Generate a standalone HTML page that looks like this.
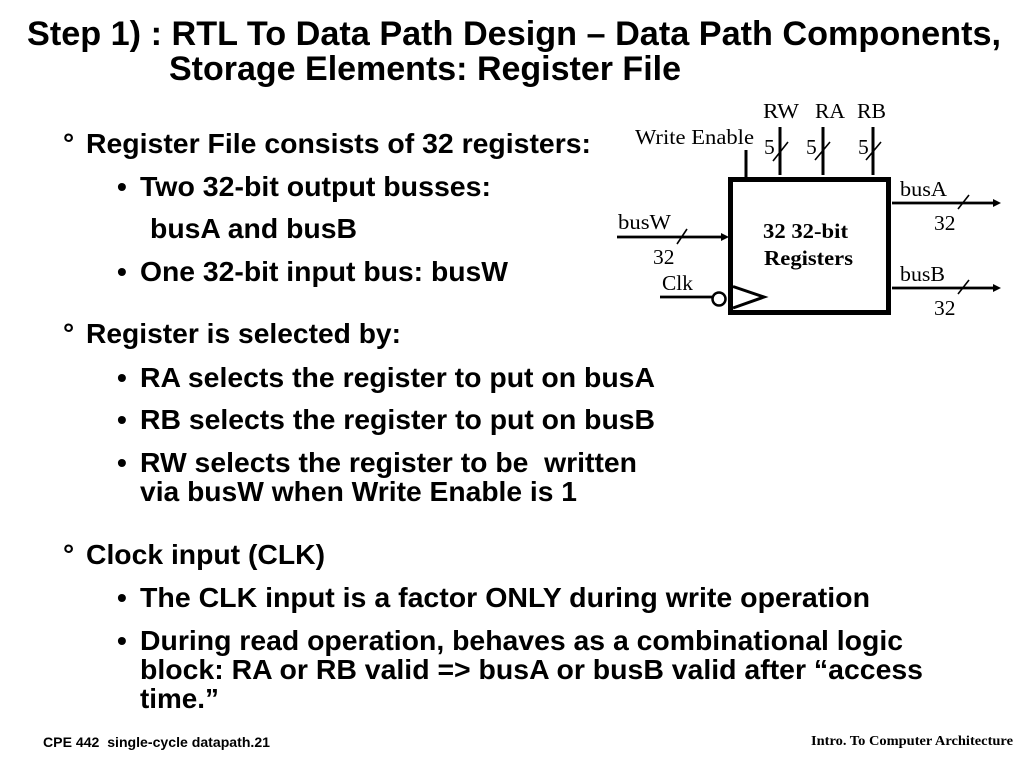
<!DOCTYPE html>
<html><head><meta charset="utf-8"><style>
html,body{margin:0;padding:0;background:#fff;width:1024px;height:768px;overflow:hidden}
svg{display:block}
text{white-space:pre;fill:#000}
.t{font:bold 34px "Liberation Sans",sans-serif}
.b{font:bold 28px "Liberation Sans",sans-serif}
.s{font:21.5px "Liberation Serif",serif}
.sb{font:bold 21px "Liberation Serif",serif}
</style></head><body>
<svg width="1024" height="768" viewBox="0 0 1024 768" xmlns="http://www.w3.org/2000/svg">
<text class="t" x="27" y="45" textLength="974" lengthAdjust="spacingAndGlyphs">Step 1) : RTL To Data Path Design – Data Path Components,</text>
<text class="t" x="169" y="80" textLength="512" lengthAdjust="spacingAndGlyphs">Storage Elements: Register File</text>

<text class="b" x="63" y="153">°</text>
<text class="b" x="86" y="153" textLength="505" lengthAdjust="spacingAndGlyphs">Register File consists of 32 registers:</text>
<text class="b" x="117" y="196">•</text>
<text class="b" x="140" y="196" textLength="351" lengthAdjust="spacingAndGlyphs">Two 32-bit output busses:</text>
<text class="b" x="150" y="238" textLength="207" lengthAdjust="spacingAndGlyphs">busA and busB</text>
<text class="b" x="117" y="281">•</text>
<text class="b" x="140" y="281" textLength="368" lengthAdjust="spacingAndGlyphs">One 32-bit input bus: busW</text>

<text class="b" x="63" y="343">°</text>
<text class="b" x="86" y="343" textLength="315" lengthAdjust="spacingAndGlyphs">Register is selected by:</text>
<text class="b" x="117" y="387">•</text>
<text class="b" x="140" y="387" textLength="515" lengthAdjust="spacingAndGlyphs">RA selects the register to put on busA</text>
<text class="b" x="117" y="429">•</text>
<text class="b" x="140" y="429" textLength="515" lengthAdjust="spacingAndGlyphs">RB selects the register to put on busB</text>
<text class="b" x="117" y="472">•</text>
<text class="b" x="140" y="472" textLength="497" lengthAdjust="spacingAndGlyphs">RW selects the register to be  written</text>
<text class="b" x="140" y="501" textLength="437" lengthAdjust="spacingAndGlyphs">via busW when Write Enable is 1</text>

<text class="b" x="63" y="564">°</text>
<text class="b" x="86" y="564" textLength="239" lengthAdjust="spacingAndGlyphs">Clock input (CLK)</text>
<text class="b" x="117" y="607">•</text>
<text class="b" x="140" y="607" textLength="730" lengthAdjust="spacingAndGlyphs">The CLK input is a factor ONLY during write operation</text>
<text class="b" x="117" y="650">•</text>
<text class="b" x="140" y="650" textLength="763" lengthAdjust="spacingAndGlyphs">During read operation, behaves as a combinational logic</text>
<text class="b" x="140" y="679" textLength="783" lengthAdjust="spacingAndGlyphs">block: RA or RB valid =&gt; busA or busB valid after “access</text>
<text class="b" x="140" y="708" textLength="79" lengthAdjust="spacingAndGlyphs">time.”</text>

<text x="43" y="747" textLength="227" lengthAdjust="spacingAndGlyphs" style="font:bold 14px 'Liberation Sans',sans-serif">CPE 442  single-cycle datapath.21</text>
<text x="811" y="745" textLength="202" lengthAdjust="spacingAndGlyphs" style="font:bold 14px 'Liberation Serif',serif">Intro. To Computer Architecture</text>

<!-- diagram -->
<rect x="730.5" y="179.5" width="158" height="133" fill="#fff" stroke="#000" stroke-width="5"/>
<g stroke="#000" fill="none">
<path d="M746 150V177M780 127V175M823 127V175M873 127V175" stroke-width="3"/>
<path d="M773 161L788 142M815 160L830 142M866 160L881 142" stroke-width="1.6"/>
<path d="M617 237H723M892 203H994M892 288H994" stroke-width="2.8"/>
<path d="M677 244L687 229M958 209L969 195M958 294L969 280" stroke-width="1.6"/>
<path d="M660 297H712" stroke-width="2.8"/>
<circle cx="719" cy="299" r="6.5" stroke-width="2.5" fill="#fff"/>
<path d="M733 286.5L764 297L733 308" stroke-width="3"/>
</g>
<path d="M729 237L721 233V241ZM1001 203L993 199V207ZM1001 288L993 284V292Z" fill="#000"/>

<text class="s" x="763" y="118" textLength="36" lengthAdjust="spacingAndGlyphs">RW</text>
<text class="s" x="815" y="118" textLength="30" lengthAdjust="spacingAndGlyphs">RA</text>
<text class="s" x="857" y="118" textLength="29" lengthAdjust="spacingAndGlyphs">RB</text>
<text class="s" x="635" y="144" textLength="119" lengthAdjust="spacingAndGlyphs">Write Enable</text>
<text class="s" x="764" y="154">5</text>
<text class="s" x="806" y="154">5</text>
<text class="s" x="858" y="154">5</text>
<text class="s" x="618" y="229" textLength="53" lengthAdjust="spacingAndGlyphs">busW</text>
<text class="s" x="653" y="264">32</text>
<text class="s" x="662" y="290" textLength="31" lengthAdjust="spacingAndGlyphs">Clk</text>
<text class="sb" x="763" y="238" textLength="85" lengthAdjust="spacingAndGlyphs">32 32-bit</text>
<text class="sb" x="764" y="265" textLength="89" lengthAdjust="spacingAndGlyphs">Registers</text>
<text class="s" x="900" y="196" textLength="47" lengthAdjust="spacingAndGlyphs">busA</text>
<text class="s" x="934" y="230">32</text>
<text class="s" x="900" y="281" textLength="45" lengthAdjust="spacingAndGlyphs">busB</text>
<text class="s" x="934" y="315">32</text>
</svg>
</body></html>
